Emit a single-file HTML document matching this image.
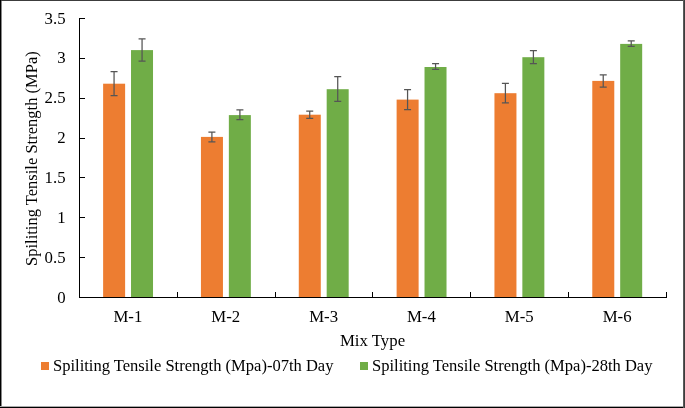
<!DOCTYPE html>
<html><head><meta charset="utf-8"><style>
html,body{margin:0;padding:0;background:#fff;}
body{width:685px;height:408px;overflow:hidden;position:relative;}
svg{position:absolute;left:0;top:0;will-change:transform;}
text{font-family:"Liberation Serif",serif;font-size:16.4px;fill:#000;}
</style></head><body>
<svg width="685" height="408" viewBox="0 0 685 408">
<rect x="0" y="0" width="685" height="408" fill="#fff"/>
<rect x="103.12" y="83.70" width="22.0" height="213.30" fill="#ED7D31"/>
<rect x="131.02" y="50.10" width="22.0" height="246.90" fill="#70AD47"/>
<path d="M114.07 71.50V95.50M110.57 71.50H117.57M110.57 95.50H117.57" stroke="#555555" stroke-width="1.25" fill="none"/>
<path d="M142.07 38.90V61.00M138.57 38.90H145.57M138.57 61.00H145.57" stroke="#555555" stroke-width="1.25" fill="none"/>
<rect x="200.95" y="136.90" width="22.0" height="160.10" fill="#ED7D31"/>
<rect x="228.85" y="115.10" width="22.0" height="181.90" fill="#70AD47"/>
<path d="M211.90 132.00V141.80M208.40 132.00H215.40M208.40 141.80H215.40" stroke="#555555" stroke-width="1.25" fill="none"/>
<path d="M239.90 109.80V119.50M236.40 109.80H243.40M236.40 119.50H243.40" stroke="#555555" stroke-width="1.25" fill="none"/>
<rect x="298.78" y="114.70" width="22.0" height="182.30" fill="#ED7D31"/>
<rect x="326.68" y="89.20" width="22.0" height="207.80" fill="#70AD47"/>
<path d="M309.73 111.00V118.30M306.23 111.00H313.23M306.23 118.30H313.23" stroke="#555555" stroke-width="1.25" fill="none"/>
<path d="M337.73 76.70V101.40M334.23 76.70H341.23M334.23 101.40H341.23" stroke="#555555" stroke-width="1.25" fill="none"/>
<rect x="396.62" y="99.60" width="22.0" height="197.40" fill="#ED7D31"/>
<rect x="424.52" y="67.00" width="22.0" height="230.00" fill="#70AD47"/>
<path d="M407.57 89.50V109.50M404.07 89.50H411.07M404.07 109.50H411.07" stroke="#555555" stroke-width="1.25" fill="none"/>
<path d="M435.57 63.70V69.40M432.07 63.70H439.07M432.07 69.40H439.07" stroke="#555555" stroke-width="1.25" fill="none"/>
<rect x="494.45" y="93.20" width="22.0" height="203.80" fill="#ED7D31"/>
<rect x="522.35" y="57.20" width="22.0" height="239.80" fill="#70AD47"/>
<path d="M505.40 83.40V102.80M501.90 83.40H508.90M501.90 102.80H508.90" stroke="#555555" stroke-width="1.25" fill="none"/>
<path d="M533.40 50.60V63.50M529.90 50.60H536.90M529.90 63.50H536.90" stroke="#555555" stroke-width="1.25" fill="none"/>
<rect x="592.28" y="80.90" width="22.0" height="216.10" fill="#ED7D31"/>
<rect x="620.18" y="43.90" width="22.0" height="253.10" fill="#70AD47"/>
<path d="M603.23 74.90V87.10M599.73 74.90H606.73M599.73 87.10H606.73" stroke="#555555" stroke-width="1.25" fill="none"/>
<path d="M631.23 40.80V46.40M627.73 40.80H634.73M627.73 46.40H634.73" stroke="#555555" stroke-width="1.25" fill="none"/>
<g shape-rendering="crispEdges">
<rect x="79" y="18" width="1" height="280" fill="#000"/>
<rect x="79" y="297" width="588" height="1" fill="#000"/>
<rect x="79" y="297" width="6" height="1" fill="#000"/>
<rect x="79" y="257" width="6" height="1" fill="#000"/>
<rect x="79" y="217" width="6" height="1" fill="#000"/>
<rect x="79" y="177" width="6" height="1" fill="#000"/>
<rect x="79" y="138" width="6" height="1" fill="#000"/>
<rect x="79" y="98" width="6" height="1" fill="#000"/>
<rect x="79" y="58" width="6" height="1" fill="#000"/>
<rect x="79" y="18" width="6" height="1" fill="#000"/>
<rect x="79" y="292" width="1" height="5" fill="#000"/>
<rect x="177" y="292" width="1" height="5" fill="#000"/>
<rect x="275" y="292" width="1" height="5" fill="#000"/>
<rect x="372" y="292" width="1" height="5" fill="#000"/>
<rect x="470" y="292" width="1" height="5" fill="#000"/>
<rect x="568" y="292" width="1" height="5" fill="#000"/>
<rect x="666" y="292" width="1" height="5" fill="#000"/>
</g>
<text x="65.6" y="302.50" text-anchor="end" style="font-size:16.8px">0</text>
<text x="65.6" y="262.64" text-anchor="end" style="font-size:16.8px">0.5</text>
<text x="65.6" y="222.79" text-anchor="end" style="font-size:16.8px">1</text>
<text x="65.6" y="182.93" text-anchor="end" style="font-size:16.8px">1.5</text>
<text x="65.6" y="143.07" text-anchor="end" style="font-size:16.8px">2</text>
<text x="65.6" y="103.21" text-anchor="end" style="font-size:16.8px">2.5</text>
<text x="65.6" y="63.36" text-anchor="end" style="font-size:16.8px">3</text>
<text x="65.6" y="23.50" text-anchor="end" style="font-size:16.8px">3.5</text>
<text x="127.92" y="321.8" text-anchor="middle" style="font-size:16.8px">M-1</text>
<text x="225.75" y="321.8" text-anchor="middle" style="font-size:16.8px">M-2</text>
<text x="323.58" y="321.8" text-anchor="middle" style="font-size:16.8px">M-3</text>
<text x="421.42" y="321.8" text-anchor="middle" style="font-size:16.8px">M-4</text>
<text x="519.25" y="321.8" text-anchor="middle" style="font-size:16.8px">M-5</text>
<text x="617.08" y="321.8" text-anchor="middle" style="font-size:16.8px">M-6</text>
<text x="372.5" y="345.7" text-anchor="middle" style="font-size:16.8px">Mix Type</text>
<text transform="translate(36.5,158.6) rotate(-90)" text-anchor="middle" style="font-size:16.55px">Spiliting Tensile Strength (MPa)</text>
<rect x="41" y="362" width="8" height="8" fill="#ED7D31"/>
<text x="53" y="371" style="font-size:16.55px">Spiliting Tensile Strength (Mpa)-07th Day</text>
<rect x="360" y="362" width="8" height="8" fill="#70AD47"/>
<text x="372" y="371" style="font-size:16.55px">Spiliting Tensile Strength (Mpa)-28th Day</text>
<g shape-rendering="crispEdges">
<rect x="0" y="0" width="685" height="1" fill="#3c3c3c"/>
<rect x="0" y="0" width="1" height="408" fill="#000"/>
<rect x="1" y="1" width="1" height="406" fill="#888"/>
<rect x="683" y="0" width="1" height="408" fill="#5a5a5a"/>
<rect x="684" y="0" width="1" height="408" fill="#3d3d3d"/>
<rect x="0" y="406" width="683" height="1" fill="#aaa"/>
<rect x="0" y="407" width="683" height="1" fill="#000"/>
</g>
</svg>
</body></html>
